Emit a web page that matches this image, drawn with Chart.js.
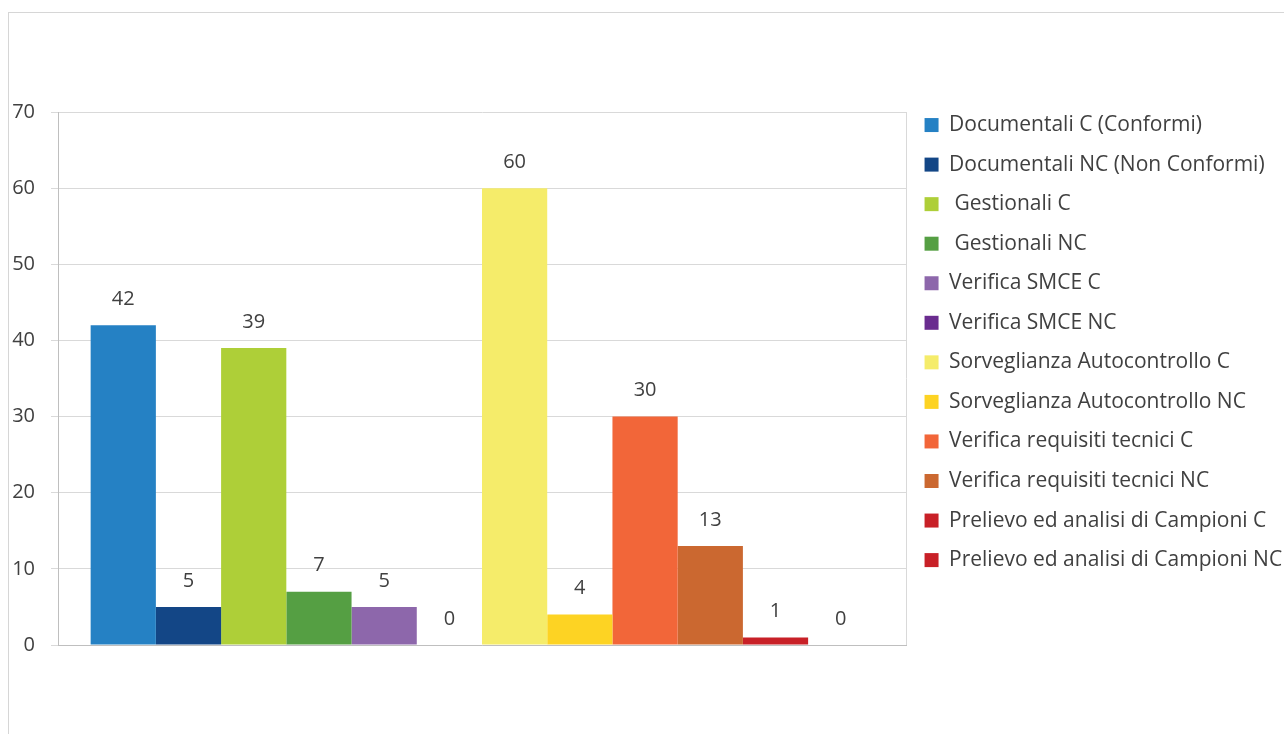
<!DOCTYPE html>
<html>
<head>
<meta charset="utf-8">
<script src="https://cdn.jsdelivr.net/npm/chart.js@4.4.1/dist/chart.umd.min.js"></script>
<style>
  html, body { margin: 0; padding: 0; background: #fff; overflow: hidden; }
  #wrap { position: relative; width: 1284px; height: 734px; }
  #frame { position: absolute; left: 8px; top: 12px; right: -10px; bottom: -10px;
           border-left: 1.5px solid #d6d6d6; border-top: 1.5px solid #d6d6d6; }
  #c { position: absolute; left: 0; top: 0; }
</style>
</head>
<body>
<div id="wrap">
  <div id="frame"></div>
  <canvas id="c" width="1284" height="734"></canvas>
</div>
<script>
// ── data ──
const CATEGORIES = [''];
const SERIES_LABELS = [
  'Documentali C (Conformi)',
  'Documentali NC (Non Conformi)',
  ' Gestionali C',
  ' Gestionali NC',
  'Verifica SMCE C',
  'Verifica SMCE NC',
  'Sorveglianza Autocontrollo C',
  'Sorveglianza Autocontrollo NC',
  'Verifica requisiti tecnici C',
  'Verifica requisiti tecnici NC',
  'Prelievo ed analisi di Campioni C',
  'Prelievo ed analisi di Campioni NC'
];
const SERIES_VALUES = [42, 5, 39, 7, 5, 0, 60, 4, 30, 13, 1, 0];
const SERIES_COLORS = [
  '#2581c4', '#134686', '#aecf38', '#559f43', '#8d67ab', '#6a2c8f',
  '#f5ec6a', '#fdd323', '#f26639', '#cb6830', '#c82027', '#c82027'
];
const Y_TICKS = [0, 10, 20, 30, 40, 50, 60, 70];

const FONT = '"Open Sans", Lato, sans-serif';
const TEXT = '#404040';

// value labels above each bar
const valueLabels = {
  id: 'valueLabels',
  afterDatasetsDraw(chart) {
    const { ctx } = chart;
    ctx.save();
    ctx.font = `20px ${FONT}`;
    ctx.fillStyle = TEXT;
    ctx.textAlign = 'center';
    ctx.textBaseline = 'middle';
    chart.data.datasets.forEach((ds, i) => {
      chart.getDatasetMeta(i).data.forEach((bar, j) => {
        ctx.fillText(String(ds.data[j]), bar.x, bar.y - 26);
      });
    });
    ctx.restore();
  }
};

new Chart(document.getElementById('c'), {
  type: 'bar',
  data: {
    labels: CATEGORIES,
    datasets: SERIES_LABELS.map((lbl, i) => ({
      label: lbl,
      data: [SERIES_VALUES[i]],
      backgroundColor: SERIES_COLORS[i],
      borderWidth: 0,
      categoryPercentage: 0.923,
      barPercentage: 1
    }))
  },
  options: {
    responsive: false, devicePixelRatio: 1, animation: false,
    layout: { padding: { top: 96, left: 0, right: 0, bottom: 89 } },
    plugins: {
      legend: {
        position: 'right', align: 'start', maxWidth: 378,
        labels: {
          font: { family: FONT, size: 21 }, color: TEXT,
          boxWidth: 14, boxHeight: 14, padding: 18.55
        }
      },
      tooltip: { enabled: false }
    },
    scales: {
      x: {
        ticks: { display: false },
        grid: { display: true, color: '#d9d9d9', drawTicks: false },
        border: { display: true, color: '#bfbfbf' },
        afterFit: s => { s.height = 0; }
      },
      xTop: {
        type: 'category', position: 'top', labels: CATEGORIES,
        ticks: { display: false }, grid: { display: false }, border: { display: false },
        afterFit: s => { s.height = 16; }
      },
      y: {
        min: 0, max: 70,
        afterBuildTicks: s => { s.ticks = Y_TICKS.map(v => ({ value: v })); },
        ticks: { font: { family: FONT, size: 20 }, color: TEXT, padding: 16 },
        grid: { color: '#d9d9d9', tickLength: 7 },
        border: { display: true, color: '#bfbfbf' },
        afterFit: s => { s.width = 58; }
      }
    }
  },
  plugins: [valueLabels]
});
</script>
</body>
</html>
